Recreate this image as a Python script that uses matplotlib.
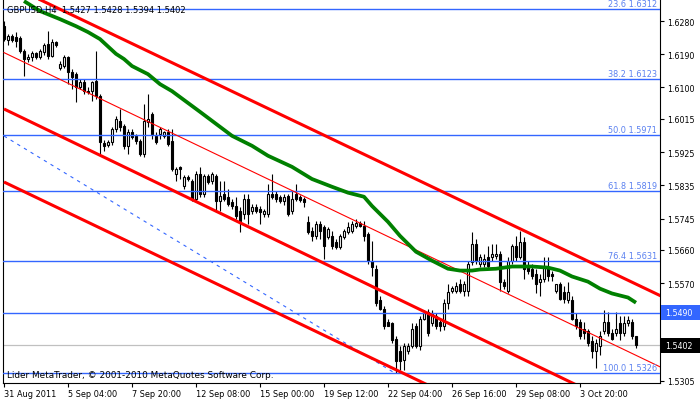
import matplotlib
matplotlib.use("Agg")
import matplotlib.pyplot as plt
import matplotlib.transforms as mtransforms
from matplotlib.patches import Rectangle

# ---------------- data (GBPUSD, H4) ----------------
opens = [1.6266, 1.6228, 1.6239, 1.6237, 1.6234, 1.6199, 1.6177, 1.6182, 1.6193, 1.6182,
         1.6196, 1.6218, 1.6185, 1.6223, 1.6153, 1.6158, 1.6182, 1.6142, 1.6136, 1.6101,
         1.6115, 1.6090, 1.6090, 1.6117, 1.6077, 1.5950, 1.5944, 1.5952, 1.5988, 1.6009,
         1.5996, 1.5942, 1.5980, 1.5969, 1.5955, 1.5920, 1.6007, 1.6028, 1.5969, 1.5974,
         1.5969, 1.5980, 1.5955, 1.5866, 1.5885, 1.5834, 1.5858, 1.5847, 1.5798, 1.5866,
         1.5812, 1.5860, 1.5847, 1.5860, 1.5793, 1.5812, 1.5804, 1.5790, 1.5779, 1.5766,
         1.5758, 1.5798, 1.5766, 1.5777, 1.5771, 1.5758, 1.5758, 1.5812, 1.5812, 1.5804,
         1.5793, 1.5806, 1.5766, 1.5812, 1.5804, 1.5798, 1.5736, 1.5712, 1.5698, 1.5731,
         1.5723, 1.5696, 1.5698, 1.5682, 1.5669, 1.5696, 1.5709, 1.5712, 1.5725, 1.5733,
         1.5725, 1.5704, 1.5631, 1.5609, 1.5523, 1.5501, 1.5466, 1.5461, 1.5420, 1.5385,
         1.5361, 1.5385, 1.5401, 1.5453, 1.5401, 1.5474, 1.5493, 1.5461, 1.5480, 1.5466,
         1.5453, 1.5515, 1.5550, 1.5550, 1.5569, 1.5550, 1.5550, 1.5628, 1.5677, 1.5623,
         1.5623, 1.5642, 1.5642, 1.5644, 1.5650, 1.5574, 1.5550, 1.5631, 1.5671, 1.5642,
         1.5682, 1.5615, 1.5609, 1.5596, 1.5574, 1.5582, 1.5615, 1.5596, 1.5550, 1.5569,
         1.5547, 1.5523, 1.5523, 1.5474, 1.5466, 1.5447, 1.5439, 1.5412, 1.5385, 1.5401,
         1.5439, 1.5466, 1.5434, 1.5434, 1.5461, 1.5434, 1.5461, 1.5466, 1.5427]

highs = [1.6280, 1.6245, 1.6245, 1.6250, 1.6239, 1.6204, 1.6191, 1.6199, 1.6196, 1.6204,
         1.6220, 1.6253, 1.6231, 1.6226, 1.6172, 1.6188, 1.6185, 1.6150, 1.6142, 1.6123,
         1.6123, 1.6101, 1.6117, 1.6199, 1.6082, 1.5958, 1.5958, 1.5993, 1.6023, 1.6042,
         1.6001, 1.5988, 1.5988, 1.5974, 1.5961, 1.6055, 1.6082, 1.6034, 1.5980, 1.5993,
         1.5982, 1.5988, 1.5988, 1.5885, 1.5888, 1.5863, 1.5863, 1.5852, 1.5874, 1.5885,
         1.5866, 1.5866, 1.5871, 1.5866, 1.5847, 1.5847, 1.5825, 1.5798, 1.5804, 1.5777,
         1.5812, 1.5812, 1.5785, 1.5785, 1.5779, 1.5771, 1.5839, 1.5866, 1.5820, 1.5809,
         1.5812, 1.5812, 1.5820, 1.5839, 1.5809, 1.5804, 1.5752, 1.5723, 1.5739, 1.5739,
         1.5728, 1.5723, 1.5712, 1.5690, 1.5704, 1.5717, 1.5736, 1.5739, 1.5744, 1.5739,
         1.5739, 1.5709, 1.5685, 1.5620, 1.5534, 1.5507, 1.5474, 1.5466, 1.5426, 1.5399,
         1.5407, 1.5407, 1.5461, 1.5461, 1.5480, 1.5496, 1.5501, 1.5496, 1.5488, 1.5474,
         1.5528, 1.5569, 1.5563, 1.5574, 1.5582, 1.5577, 1.5631, 1.5709, 1.5690, 1.5650,
         1.5650, 1.5671, 1.5677, 1.5677, 1.5658, 1.5582, 1.5642, 1.5677, 1.5698, 1.5712,
         1.5696, 1.5631, 1.5623, 1.5609, 1.5596, 1.5642, 1.5642, 1.5604, 1.5569, 1.5574,
         1.5561, 1.5574, 1.5534, 1.5488, 1.5474, 1.5466, 1.5447, 1.5426, 1.5420, 1.5439,
         1.5496, 1.5493, 1.5447, 1.5493, 1.5480, 1.5480, 1.5480, 1.5474, 1.5428]

lows = [1.6226, 1.6215, 1.6223, 1.6209, 1.6193, 1.6131, 1.6169, 1.6172, 1.6177, 1.6177,
        1.6188, 1.6177, 1.6182, 1.6209, 1.6147, 1.6153, 1.6109, 1.6096, 1.6061, 1.6096,
        1.6082, 1.6082, 1.6063, 1.6069, 1.5920, 1.5928, 1.5939, 1.5944, 1.5980, 1.5982,
        1.5933, 1.5920, 1.5961, 1.5947, 1.5915, 1.5912, 1.5993, 1.5961, 1.5947, 1.5961,
        1.5963, 1.5942, 1.5874, 1.5847, 1.5852, 1.5825, 1.5847, 1.5793, 1.5790, 1.5804,
        1.5804, 1.5839, 1.5839, 1.5763, 1.5766, 1.5793, 1.5779, 1.5771, 1.5744, 1.5709,
        1.5744, 1.5731, 1.5758, 1.5760, 1.5731, 1.5750, 1.5750, 1.5798, 1.5790, 1.5787,
        1.5782, 1.5752, 1.5758, 1.5793, 1.5790, 1.5777, 1.5704, 1.5685, 1.5690, 1.5690,
        1.5636, 1.5690, 1.5663, 1.5663, 1.5663, 1.5690, 1.5704, 1.5706, 1.5720, 1.5723,
        1.5685, 1.5623, 1.5588, 1.5509, 1.5496, 1.5447, 1.5453, 1.5407, 1.5326, 1.5334,
        1.5334, 1.5377, 1.5393, 1.5393, 1.5388, 1.5469, 1.5428, 1.5453, 1.5447, 1.5439,
        1.5442, 1.5501, 1.5544, 1.5544, 1.5542, 1.5536, 1.5534, 1.5620, 1.5623, 1.5615,
        1.5615, 1.5609, 1.5631, 1.5636, 1.5550, 1.5555, 1.5542, 1.5623, 1.5631, 1.5636,
        1.5582, 1.5596, 1.5582, 1.5542, 1.5536, 1.5574, 1.5577, 1.5577, 1.5542, 1.5523,
        1.5515, 1.5515, 1.5469, 1.5447, 1.5420, 1.5420, 1.5399, 1.5366, 1.5339, 1.5375,
        1.5431, 1.5426, 1.5415, 1.5426, 1.5415, 1.5428, 1.5453, 1.5420, 1.5394]

closes = [1.6231, 1.6239, 1.6228, 1.6226, 1.6199, 1.6177, 1.6182, 1.6193, 1.6182, 1.6199,
          1.6215, 1.6185, 1.6223, 1.6215, 1.6163, 1.6182, 1.6142, 1.6128, 1.6101, 1.6115,
          1.6090, 1.6088, 1.6115, 1.6077, 1.5952, 1.5942, 1.5952, 1.5988, 1.6015, 1.5993,
          1.5942, 1.5980, 1.5966, 1.5955, 1.5920, 1.6009, 1.6015, 1.5974, 1.5952, 1.5988,
          1.5980, 1.5947, 1.5879, 1.5879, 1.5879, 1.5858, 1.5852, 1.5798, 1.5866, 1.5812,
          1.5860, 1.5844, 1.5866, 1.5793, 1.5806, 1.5798, 1.5785, 1.5779, 1.5752, 1.5739,
          1.5798, 1.5758, 1.5777, 1.5766, 1.5763, 1.5766, 1.5812, 1.5804, 1.5798, 1.5793,
          1.5804, 1.5758, 1.5798, 1.5798, 1.5796, 1.5790, 1.5709, 1.5698, 1.5731, 1.5712,
          1.5671, 1.5717, 1.5671, 1.5669, 1.5698, 1.5712, 1.5723, 1.5731, 1.5733, 1.5725,
          1.5698, 1.5631, 1.5615, 1.5515, 1.5501, 1.5455, 1.5455, 1.5415, 1.5358, 1.5358,
          1.5401, 1.5401, 1.5447, 1.5401, 1.5474, 1.5488, 1.5434, 1.5488, 1.5455, 1.5453,
          1.5515, 1.5547, 1.5558, 1.5561, 1.5550, 1.5569, 1.5623, 1.5677, 1.5631, 1.5642,
          1.5636, 1.5617, 1.5650, 1.5650, 1.5574, 1.5563, 1.5631, 1.5671, 1.5642, 1.5682,
          1.5609, 1.5604, 1.5588, 1.5569, 1.5582, 1.5615, 1.5588, 1.5588, 1.5569, 1.5528,
          1.5528, 1.5547, 1.5474, 1.5455, 1.5428, 1.5434, 1.5407, 1.5385, 1.5407, 1.5426,
          1.5466, 1.5434, 1.5420, 1.5447, 1.5434, 1.5461, 1.5469, 1.5428, 1.5402]

# moving average (read at selected bars)
ma_bars = [5, 9, 14, 18, 21, 24, 28, 30, 32, 36, 39, 42, 49, 57, 62, 66, 72, 77, 82, 86,
           90, 92, 96, 99, 103, 107, 111, 114, 117, 119, 123, 127, 132, 136, 139, 142, 146,
           149, 152, 156, 158]
ma_values = [1.6334, 1.6307, 1.6285, 1.6266, 1.6250, 1.6231, 1.6191, 1.6177, 1.6158, 1.6136,
             1.6109, 1.6090, 1.6034, 1.5969, 1.5942, 1.5915, 1.5885, 1.5852, 1.5831, 1.5815,
             1.5804, 1.5779, 1.5736, 1.5698, 1.5655, 1.5631, 1.5609, 1.5604, 1.5604, 1.5607,
             1.5609, 1.5615, 1.5615, 1.5612, 1.5604, 1.5588, 1.5574, 1.5555, 1.5542, 1.5531,
             1.5517]

# Fibonacci retracement
fib_levels = ["23.6", "38.2", "50.0", "61.8", "76.4", "100.0"]
fib_prices = [1.6312, 1.6123, 1.5971, 1.5819, 1.5631, 1.5326]
fib_trend_bars = [0.0, 97.75]
fib_trend_prices = [1.59685, 1.5326]

# channel lines (bar, price anchors)
channel_bars = [0.0, 164.25]
channel_upper = [1.63843, 1.55351]
channel_mid_thin = [1.61944, 1.53420]
channel_middle = [1.60417, 1.51838]
channel_lower = [1.58439, 1.49915]

hline_price = 1.5490
bid_price = 1.5402

ytick_values = [1.6280, 1.6190, 1.6100, 1.6015, 1.5925, 1.5835, 1.5745, 1.5660,
                1.5570, 1.5480, 1.5395, 1.5305]
ytick_hidden = [1.5480, 1.5395]   # covered by the price boxes
xtick_bars = [0, 16, 32, 48, 64, 80, 96, 112, 128, 144]
xtick_labels = ["31 Aug 2011", "5 Sep 04:00", "7 Sep 20:00", "12 Sep 08:00",
                "15 Sep 00:00", "19 Sep 12:00", "22 Sep 04:00", "26 Sep 16:00",
                "29 Sep 08:00", "3 Oct 20:00"]
title_text = "GBPUSD,H4  1.5427 1.5428 1.5394 1.5402"
footer_text = "Lider MetaTrader, \u00a9 2001-2010 MetaQuotes Software Corp."

# ---------------- figure ----------------
plt.rcParams['font.family'] = ['DejaVu Sans']
FS = 5.9
FSY = 5.7
W, H = 700, 402
BLUE = '#3366ff'
FIBTXT = '#5a80f0'

fig = plt.figure(figsize=(W / 100, H / 100), dpi=100)
fig.patch.set_facecolor('white')
ax = fig.add_axes([3 / W, (H - 384) / H, 657 / W, 384 / H])
ax.set_facecolor('white')
ax.set_xlim(-0.25, 164.0)
ax.set_ylim(1.52995, 1.63396)

# candles
for i in range(len(opens)):
    o, h, l, c = opens[i], highs[i], lows[i], closes[i]
    ax.vlines(i, l, h, color='black', lw=0.8, zorder=2)
    bottom = min(o, c)
    height = max(abs(c - o), 0.00004)
    fc = 'white' if c >= o else 'black'
    ax.add_patch(Rectangle((i - 0.25, bottom), 0.5, height, facecolor=fc,
                           edgecolor='black', lw=0.8, zorder=3))

# horizontal lines
for p in fib_prices:
    ax.axhline(p, color=BLUE, lw=1.0, zorder=4)
ax.axhline(hline_price, color=BLUE, lw=1.0, zorder=4)
ax.axhline(bid_price, color='#c0c0c0', lw=0.9, zorder=1.5)

# fib trend line (dashed)
ax.plot(fib_trend_bars, fib_trend_prices, color=BLUE, lw=0.8,
        dashes=(3, 4), zorder=4)

# channels
for prices in (channel_upper, channel_middle, channel_lower):
    ax.plot(channel_bars, prices, color='#ff0000', lw=2.2, zorder=5,
            solid_capstyle='butt')
ax.plot(channel_bars, channel_mid_thin, color='#ff0000', lw=0.8, zorder=5)

# moving average
ax.plot(ma_bars, ma_values, color='#008000', lw=2.7, zorder=5,
        solid_capstyle='butt', solid_joinstyle='round')

# fib labels
blend = mtransforms.blended_transform_factory(ax.transAxes, ax.transData)
for lvl, p in zip(fib_levels, fib_prices):
    ax.text(0.9955, p + 0.0003, f"{lvl} {p:.4f}", transform=blend, ha='right',
            va='bottom', fontsize=FS, color=FIBTXT, zorder=6)

# axes styling
for s in ('left', 'bottom', 'right'):
    ax.spines[s].set_color('black')
    ax.spines[s].set_linewidth(0.8)
ax.spines['top'].set_visible(False)

ax.yaxis.tick_right()
ax.set_yticks(ytick_values)
ax.set_yticklabels(["" if v in ytick_hidden else f"{v:.4f}" for v in ytick_values])
ax.tick_params(axis='y', direction='out', length=3, width=0.8, pad=2,
               labelsize=FSY, colors='black')
ax.set_xticks(xtick_bars)
ax.set_xticklabels(xtick_labels)
ax.tick_params(axis='x', direction='out', length=3, width=0.8, pad=1.5,
               labelsize=FS, colors='black')
for lab in ax.get_xticklabels():
    lab.set_ha('left')

# price boxes on the axis
px = 0.00027086
for price, col in ((hline_price, BLUE), (bid_price, 'black')):
    ax.add_patch(Rectangle((1.0015, price - 7.5 * px), 0.0594, 15 * px,
                           transform=blend, facecolor=col, edgecolor='none',
                           clip_on=False, zorder=10))
    ax.text(1.0075, price, f"{price:.4f}", transform=blend, ha='left',
            va='center', fontsize=FSY, color='white', clip_on=False, zorder=11)

# header & footer
fig.text(7 / W, 1 - 10 / H, title_text, ha='left', va='center', fontsize=FS + 0.1,
         color='black', zorder=12)
fig.text(7 / W, 1 - 376 / H, footer_text, ha='left', va='center', fontsize=FS + 0.5,
         color='black', zorder=12)

fig.savefig('out.png', dpi=100, facecolor='white')
